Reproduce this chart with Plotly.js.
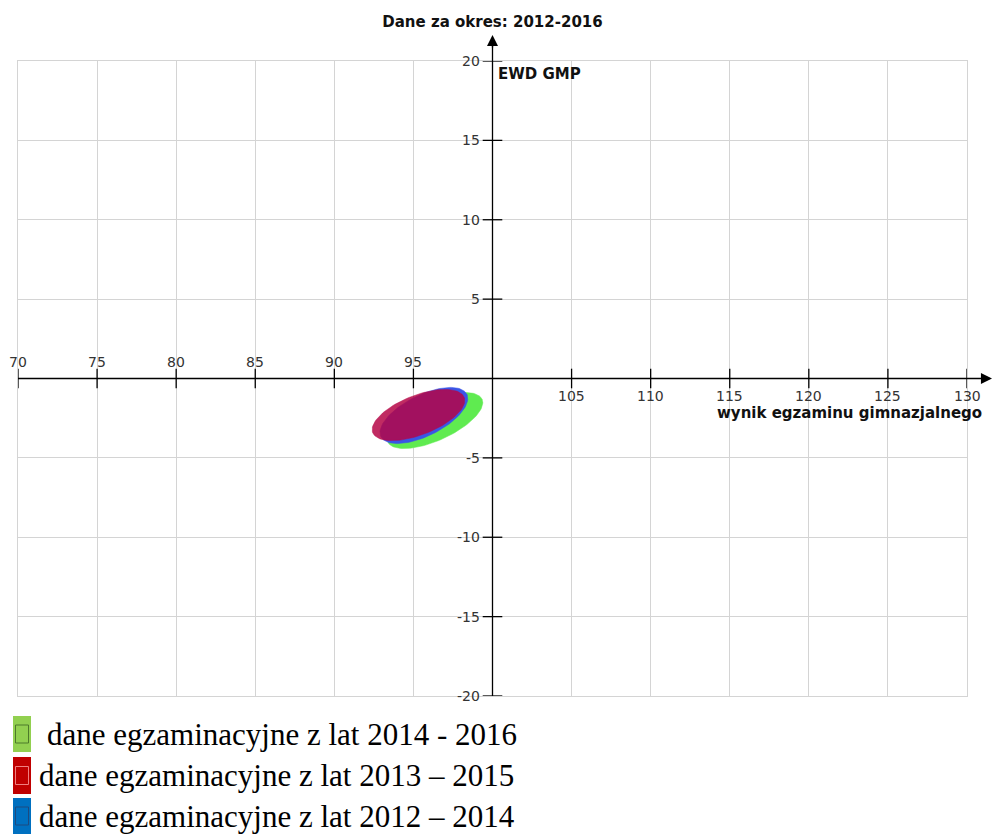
<!DOCTYPE html>
<html><head><meta charset="utf-8">
<script src="https://cdn.plot.ly/plotly-3.0.1.min.js"></script>
<style>html,body{margin:0;padding:0;background:#fff}#chart{width:993px;height:834px}</style>
</head><body><div id="chart"></div>
<script>
// ---- data ----
const seriesNames = ['dane egzaminacyjne z lat 2014 - 2016', 'dane egzaminacyjne z lat 2013 – 2015', 'dane egzaminacyjne z lat 2012 – 2014'];
const centerX = [96.36, 95.32, 95.66];
const centerY = [-2.65, -2.30, -2.33];
const semiMajor = [3.27, 3.10, 3.03];
const semiMinor = [1.25, 1.25, 1.29];
const angleDeg = [24.3, 21, 26.2];
const xTickValues = [70, 75, 80, 85, 90, 95, 105, 110, 115, 120, 125, 130];
const yTickValues = [20, 15, 10, 5, -5, -10, -15, -20];
const xCross = 100, yCross = 0;
const xRange = [70, 130], yRange = [-20, 20];
const chartTitle = 'Dane za okres: 2012-2016';
const xTitle = 'wynik egzaminu gimnazjalnego';
const yTitle = 'EWD GMP';

// ---- styles ----
const ellipseColors = ['rgb(95,235,80)', 'rgba(181,6,70,0.85)', 'rgb(58,85,230)'];
const legendColors = ['#92d050', '#c00000', '#0070c0'];
const legendInner = ['#4d7a2a', '#f08080', '#1d4a80'];
const drawOrder = [0, 2, 1];
const tickFont = {family: 'DejaVu Sans', size: 14, color: '#333'};
const boldFont = {family: 'DejaVu Sans', size: 15, color: '#111', weight: 'bold'};

function ellipse(i) {
  const xs = [], ys = [];
  const th = angleDeg[i] * Math.PI / 180;
  for (let k = 0; k <= 120; k++) {
    const t = 2 * Math.PI * k / 120;
    xs.push(centerX[i] + semiMajor[i] * Math.cos(th) * Math.cos(t) - semiMinor[i] * Math.sin(th) * Math.sin(t));
    ys.push(centerY[i] + semiMajor[i] * Math.sin(th) * Math.cos(t) + semiMinor[i] * Math.cos(th) * Math.sin(t));
  }
  return {x: xs, y: ys};
}

const traces = drawOrder.map(i => {
  const e = ellipse(i);
  return {type: 'scatter', mode: 'lines', x: e.x, y: e.y, fill: 'toself',
    fillcolor: ellipseColors[i], line: {width: 0.5, color: ellipseColors[i]},
    name: seriesNames[i], hoverinfo: 'name', showlegend: false};
});

const tickMarker = sym => ({symbol: sym, size: 14, color: '#000', line: {width: 1.3, color: '#000'}});
traces.push({type: 'scatter', mode: 'markers', x: xTickValues, y: xTickValues.map(() => yCross),
  marker: tickMarker('line-ns-open'), cliponaxis: false, hoverinfo: 'skip', showlegend: false});
traces.push({type: 'scatter', mode: 'markers', x: yTickValues.map(() => xCross), y: yTickValues,
  marker: tickMarker('line-ew-open'), cliponaxis: false, hoverinfo: 'skip', showlegend: false});

const W = 993, H = 834, M = {l: 18, r: 26, t: 61, b: 138};
const plotW = W - M.l - M.r, plotH = H - M.t - M.b;
const px2paperX = px => (px - M.l) / plotW;
const py2paperY = py => (H - M.b - py) / plotH;
const xFrac = (xCross - xRange[0]) / (xRange[1] - xRange[0]);
const yFrac = (yCross - yRange[0]) / (yRange[1] - yRange[0]);

const shapes = [
  {type: 'line', xref: 'paper', yref: 'paper', x0: 0, x1: px2paperX(984), y0: yFrac, y1: yFrac, line: {color: '#000', width: 1.3}},
  {type: 'line', xref: 'paper', yref: 'paper', x0: xFrac, x1: xFrac, y0: 0, y1: py2paperY(44), line: {color: '#000', width: 1.3}}
];
const annotations = [
  {xref: 'paper', yref: 'paper', x: px2paperX(994), y: yFrac, ax: -14, ay: 0, axref: 'pixel', ayref: 'pixel', text: '', showarrow: true, arrowhead: 2, arrowsize: 1.7, arrowwidth: 1.3, arrowcolor: '#000'},
  {xref: 'paper', yref: 'paper', x: xFrac, y: py2paperY(35), ax: 0, ay: 14, text: '', showarrow: true, arrowhead: 2, arrowsize: 1.7, arrowwidth: 1.3, arrowcolor: '#000'},
  {xref: 'paper', yref: 'paper', x: xFrac, y: 1, xanchor: 'left', yanchor: 'top', xshift: 3, yshift: -2, text: '<b>' + yTitle + '</b>', showarrow: false, font: boldFont},
  {xref: 'paper', yref: 'paper', x: px2paperX(984), y: py2paperY(413), xanchor: 'right', yanchor: 'middle', text: '<b>' + xTitle + '</b>', showarrow: false, font: boldFont}
];

// tick labels
xTickValues.forEach(v => {
  annotations.push({xref: 'x', yref: 'y', x: v, y: yCross, text: String(v), showarrow: false, font: tickFont,
    xanchor: 'center', yanchor: 'middle', yshift: v < xCross ? 17 : -17});
});
yTickValues.forEach(v => {
  annotations.push({xref: 'x', yref: 'y', x: xCross, y: v, text: String(v), showarrow: false, font: tickFont,
    xanchor: 'right', yanchor: 'middle', xshift: -11});
});

// custom legend under the plot
const rowTop = [716, 757, 798], rowBot = [752, 794, 834];
const textX = [45, 37, 37];
seriesNames.forEach((name, i) => {
  shapes.push({type: 'rect', xref: 'paper', yref: 'paper', x0: px2paperX(13), x1: px2paperX(31), y0: py2paperY(rowBot[i]), y1: py2paperY(rowTop[i]),
    fillcolor: legendColors[i], line: {width: 0}});
  const mid = (rowTop[i] + rowBot[i]) / 2;
  shapes.push({type: 'rect', xref: 'paper', yref: 'paper', x0: px2paperX(15.5), x1: px2paperX(28.5), y0: py2paperY(mid + 9), y1: py2paperY(mid - 9),
    fillcolor: 'rgba(0,0,0,0)', line: {width: 1, color: legendInner[i]}});
  annotations.push({xref: 'paper', yref: 'paper', x: px2paperX(textX[i]), y: py2paperY(mid), xanchor: 'left', yanchor: 'middle',
    text: name, showarrow: false, font: {family: 'Liberation Serif', size: 31, color: '#000'}});
});

const axisCommon = {showgrid: true, gridcolor: '#d4d4d4', gridwidth: 1, zeroline: false, showticklabels: false,
  ticks: '', showline: true, mirror: true, linecolor: '#d4d4d4', linewidth: 1, dtick: 5, fixedrange: true};

const layout = {
  width: W, height: H, margin: M, paper_bgcolor: '#fff', plot_bgcolor: '#fff', showlegend: false,
  title: {text: '<b>' + chartTitle + '</b>', x: 0.5, xref: 'paper', y: 1 - 22 / H, yanchor: 'middle', font: boldFont},
  xaxis: Object.assign({}, axisCommon, {range: xRange, tick0: 70}),
  yaxis: Object.assign({}, axisCommon, {range: yRange, tick0: -20}),
  shapes: shapes, annotations: annotations
};
Plotly.newPlot('chart', traces, layout, {displayModeBar: false, staticPlot: true});
</script></body></html>
